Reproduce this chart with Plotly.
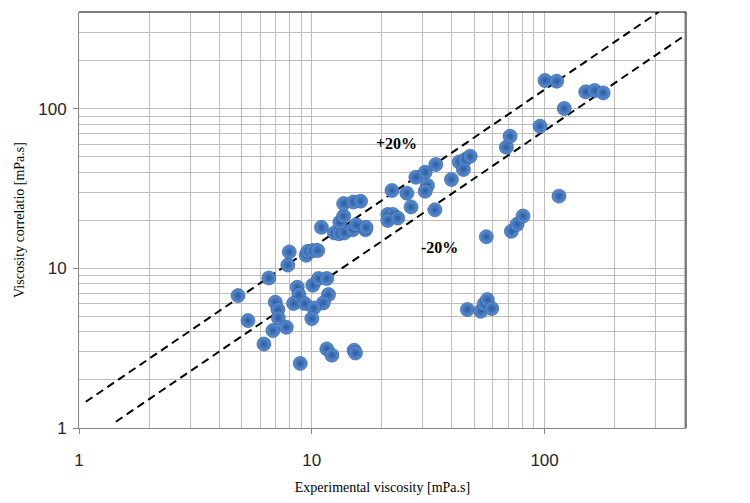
import numpy as np
import plotly.graph_objects as go

# experimental vs correlated viscosity [mPa.s]
exp_visc = [
    4.82, 5.32, 6.23, 6.54, 6.97, 7.15, 7.18, 6.81, 7.77, 7.89,
    8.00, 8.66, 8.80, 8.35, 9.31, 8.92, 9.46, 9.61, 10.1, 10.6,
    10.1, 10.7, 11.6, 11.8, 11.2, 10.2, 10.0, 11.6, 12.2, 15.2,
    15.4, 11.0, 12.5, 13.1, 13.8, 15.0, 15.5, 17.0, 13.2, 13.7,
    13.7, 15.1, 16.2, 21.2, 22.3, 21.2, 23.4, 17.1, 22.1, 25.6,
    26.7, 28.0, 30.7, 31.4, 30.7, 34.1, 33.8, 39.8, 43.0, 44.8,
    45.6, 47.9, 56.2, 46.6, 53.2, 55.0, 56.8, 59.3, 68.5, 71.1,
    72.0, 76.2, 80.8, 95.6, 100.4, 112.7, 115.3, 121.5, 150.1, 164.0,
    178.5,
]
corr_visc = [
    6.76, 4.71, 3.36, 8.72, 6.14, 5.53, 4.90, 4.08, 4.28, 10.5,
    12.7, 7.62, 6.86, 6.03, 6.03, 2.54, 12.1, 12.8, 12.95, 12.95,
    7.85, 8.65, 8.65, 6.86, 6.08, 5.65, 4.85, 3.13, 2.86, 3.07,
    2.95, 18.1, 16.7, 16.5, 16.7, 17.5, 18.8, 17.5, 19.5, 21.3,
    25.5, 26.1, 26.4, 21.8, 21.8, 20.0, 20.7, 18.1, 30.8, 29.6,
    24.3, 37.3, 40.1, 33.1, 30.5, 44.8, 23.3, 36.1, 46.5, 41.7,
    48.2, 50.5, 15.8, 5.53, 5.39, 5.99, 6.38, 5.61, 57.5, 67.4,
    17.1, 18.9, 21.3, 77.9, 150.7, 149.2, 28.4, 100.6, 127.9, 130.5,
    126.0,
]

# +/-20 % guide lines (end points)
upper_x = [1.07, 309]
upper_y = [1.46, 405]
lower_x = [1.44, 405]
lower_y = [1.095, 292]

major_ticks = [1, 10, 100]
major_text = ["1", "10", "100"]
minor_ticks = [2, 3, 4, 5, 6, 7, 8, 9, 20, 30, 40, 50, 60, 70, 80, 90, 200, 300, 400]

AX_MAX = np.log10(405)
GRID = "#bdbdbd"
AXIS = "#868686"

fig = go.Figure()

for xs, ys in [(upper_x, upper_y), (lower_x, lower_y)]:
    fig.add_trace(go.Scatter(
        x=xs, y=ys, mode="lines",
        line=dict(color="black", width=2, dash="8px,5px"),
        hoverinfo="skip",
    ))

fig.add_trace(go.Scatter(
    x=exp_visc, y=corr_visc, mode="markers",
    marker=dict(
        size=14,
        color="#5b90d8",
        gradient=dict(type="radial", color="#2a5b9c"),
        line=dict(color="#2a5088", width=0.6),
    ),
))

fig.add_annotation(x=np.log10(23.1), y=np.log10(60.9), text="<b>+20%</b>",
                   showarrow=False, font=dict(family="Liberation Serif", size=16, color="black"))
fig.add_annotation(x=np.log10(35.3), y=np.log10(13.6), text="<b>-20%</b>",
                   showarrow=False, font=dict(family="Liberation Serif", size=16, color="black"))

# black frame on top and right
fig.add_shape(type="line", xref="x domain", yref="y domain", x0=0, x1=1, y0=1, y1=1,
              line=dict(color="black", width=1))
fig.add_shape(type="line", xref="x domain", yref="y domain", x0=1, x1=1, y0=0, y1=1,
              line=dict(color="black", width=1))

axis_common = dict(
    type="log",
    range=[0, AX_MAX],
    tickmode="array",
    tickvals=major_ticks,
    ticktext=major_text,
    ticks="outside",
    ticklen=5,
    tickcolor=AXIS,
    showgrid=True,
    gridcolor=GRID,
    gridwidth=1,
    showline=True,
    linecolor=AXIS,
    linewidth=1,
    zeroline=False,
    minor=dict(tickmode="array", tickvals=minor_ticks, showgrid=True,
               gridcolor=GRID, gridwidth=1, ticks=""),
    tickfont=dict(family="Liberation Sans", size=17, color="#262626"),
)

fig.update_xaxes(
    **axis_common,
    ticklabelstandoff=12,
    title=dict(text="Experimental viscosity [mPa.s]", standoff=12,
               font=dict(family="Liberation Serif", size=14, color="black")),
)
fig.update_yaxes(
    **axis_common,
    ticklabelstandoff=3,
    title=dict(text="Viscosity correlatio [mPa.s]", standoff=10,
               font=dict(family="Liberation Serif", size=14, color="black")),
)

# page body has an 8px margin, so the figure is a bit smaller than the window
fig.update_layout(
    width=742,
    height=495,
    margin=dict(l=71, r=64, t=4, b=75),
    plot_bgcolor="white",
    paper_bgcolor="white",
    showlegend=False,
)

fig.write_html("out.html")
